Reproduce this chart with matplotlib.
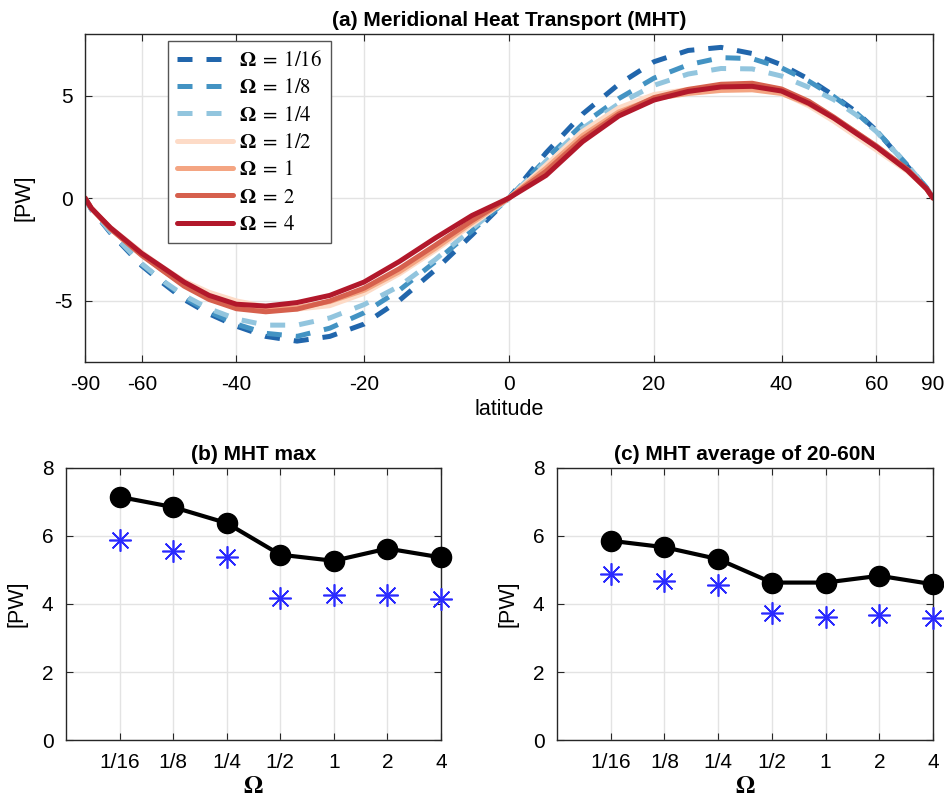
import numpy as np
import matplotlib
matplotlib.use('Agg')
import matplotlib.pyplot as plt

plt.rcParams['font.family'] = ['Liberation Sans', 'DejaVu Sans']
plt.rcParams['mathtext.fontset'] = 'stix'

lats = [-90, -80, -70, -60, -55, -50, -45, -40, -35, -30, -25, -20, -15, -10, -5,
        0, 5, 10, 15, 20, 25, 30, 35, 40, 45, 50, 55, 60, 70, 80, 90]

# MHT [PW] for each rotation rate
mht_1_16 = [0, -0.55, -1.7, -3.3, -4.1, -4.95, -5.65, -6.25, -6.75, -6.98, -6.75, -6.15, -5.0, -3.5, -1.8,
            0, 2.2, 4.1, 5.55, 6.65, 7.2, 7.35, 7.05, 6.5, 5.8, 5.0, 4.2, 3.3, 1.55, 0.5, 0]
mht_1_8 = [0, -0.55, -1.65, -3.25, -4.0, -4.85, -5.55, -6.15, -6.6, -6.75, -6.35, -5.6, -4.5, -3.1, -1.6,
           0, 1.9, 3.6, 4.85, 5.85, 6.5, 6.85, 6.8, 6.35, 5.7, 4.95, 4.15, 3.3, 1.6, 0.5, 0]
mht_1_4 = [0, -0.55, -1.65, -3.2, -4.0, -4.75, -5.4, -5.9, -6.2, -6.2, -5.85, -5.2, -4.3, -3.0, -1.5,
           0, 1.8, 3.4, 4.6, 5.5, 6.05, 6.32, 6.3, 5.95, 5.4, 4.8, 4.05, 3.25, 1.6, 0.5, 0]
mht_1_2 = [0, -0.5, -1.45, -2.65, -3.35, -4.05, -4.6, -5.02, -5.3, -5.42, -5.25, -4.65, -3.7, -2.55, -1.3,
           0, 1.6, 3.25, 4.4, 5.05, 5.3, 5.42, 5.38, 5.12, 4.5, 3.75, 3.0, 2.35, 1.3, 0.45, 0]
mht_1 = [0, -0.5, -1.5, -2.75, -3.5, -4.25, -4.85, -5.25, -5.4, -5.35, -5.05, -4.5, -3.6, -2.45, -1.2,
         0, 1.45, 3.05, 4.2, 4.85, 5.1, 5.25, 5.28, 5.1, 4.58, 3.9, 3.2, 2.5, 1.35, 0.45, 0]
mht_2 = [0, -0.5, -1.5, -2.8, -3.5, -4.3, -4.95, -5.4, -5.55, -5.42, -5.02, -4.4, -3.45, -2.3, -1.1,
         0, 1.3, 2.9, 4.1, 4.9, 5.3, 5.55, 5.6, 5.32, 4.72, 3.95, 3.2, 2.55, 1.4, 0.45, 0]
mht_4 = [0, -0.5, -1.45, -2.7, -3.35, -4.1, -4.75, -5.18, -5.27, -5.1, -4.75, -4.1, -3.1, -1.95, -0.85,
         0, 1.1, 2.75, 4.0, 4.78, 5.2, 5.42, 5.45, 5.22, 4.62, 3.9, 3.15, 2.5, 1.35, 0.45, 0]

series = [mht_1_16, mht_1_8, mht_1_4, mht_1_2, mht_1, mht_2, mht_4]
omega_labels = ['1/16', '1/8', '1/4', '1/2', '1', '2', '4']
colors = ['#2166ac', '#4393c3', '#92c5de', '#fddbc7', '#f4a582', '#d6604d', '#b2182b']
dashed = [True, True, True, False, False, False, False]

# panel (b): max MHT ; panel (c): MHT average 20-60N
mht_max = [7.15, 6.85, 6.38, 5.45, 5.27, 5.63, 5.37]
mht_max_star = [5.87, 5.55, 5.37, 4.19, 4.25, 4.25, 4.15]
mht_avg = [5.86, 5.67, 5.32, 4.63, 4.63, 4.83, 4.58]
mht_avg_star = [4.87, 4.67, 4.57, 3.73, 3.62, 3.68, 3.59]

lat_ticks = [-90, -60, -40, -20, 0, 20, 40, 60, 90]

spine_col = '#262626'
grid_col = '#e3e3e3'
omega = r'\mathbf{\Omega}'


def style_axes(ax):
    ax.grid(True, color=grid_col, lw=1.0)
    ax.set_axisbelow(True)
    for s in ax.spines.values():
        s.set_color(spine_col)
        s.set_linewidth(1.0)
    ax.tick_params(direction='in', top=True, right=True, length=5,
                   color=spine_col, labelsize=15, pad=9)


fig = plt.figure(figsize=(9.45, 8.07), dpi=100)

# (a) curves against latitude on a sine axis
ax = fig.add_axes([0.0899, 0.5514, 0.8974, 0.4064])
ax.set_xscale('function', functions=(lambda x: np.sin(np.deg2rad(x)),
                                     lambda y: np.rad2deg(np.arcsin(np.clip(y, -1, 1)))))
for vals, lab, c, d in zip(series, omega_labels, colors, dashed):
    if d:
        ax.plot(lats, vals, color=c, lw=3.6, dashes=(3.0, 2.8),
                label=r'$%s\;=\;%s$' % (omega, lab))
    else:
        ax.plot(lats, vals, color=c, lw=3.6, solid_capstyle='round', solid_joinstyle='round',
                label=r'$%s\;=\;%s$' % (omega, lab))
ax.set_xlim(-90, 90)
ax.set_ylim(-8, 8)
ax.set_xticks(lat_ticks)
ax.set_xticklabels([str(t) for t in lat_ticks])
ax.set_yticks([-5, 0, 5])
ax.set_yticklabels(['-5', '0', '5'])
style_axes(ax)
ax.set_xlabel('latitude', fontsize=15.5, labelpad=4)
ax.set_ylabel('[PW]', fontsize=15.5, labelpad=14)
ax.set_title('(a) Meridional Heat Transport (MHT)', fontsize=15, fontweight='bold', pad=6)
leg = ax.legend(loc='upper left', bbox_to_anchor=(0.098, 0.98), borderaxespad=0,
                fontsize=15, handlelength=2.65, handletextpad=0.3, labelspacing=0.4,
                borderpad=0.45, fancybox=False, framealpha=1.0)
leg.get_frame().set_edgecolor('#555555')
leg.get_frame().set_linewidth(1.0)

# (b) and (c)
xpos = np.arange(1, len(omega_labels) + 1)
panels = [([0.0698, 0.0830, 0.3968, 0.3371], mht_max, mht_max_star, '(b) MHT max'),
          ([0.5894, 0.0830, 0.3979, 0.3371], mht_avg, mht_avg_star, '(c) MHT average of 20-60N')]
for rect, dots, stars, title in panels:
    bx = fig.add_axes(rect)
    bx.plot(xpos, dots, color='black', lw=3, marker='o', ms=14.5, clip_on=False, zorder=3)
    bx.plot(xpos, stars, ls='none', marker=(8, 2, 0), ms=16, mec='#2b2bff', mew=1.2,
            clip_on=False, zorder=3)
    bx.set_xlim(0, 7)
    bx.set_ylim(0, 8)
    bx.set_xticks(xpos)
    bx.set_xticklabels(omega_labels)
    bx.set_yticks([0, 2, 4, 6, 8])
    style_axes(bx)
    bx.set_xlabel(r'$%s$' % omega, fontsize=18, labelpad=2)
    bx.set_ylabel('[PW]', fontsize=15.5, labelpad=10)
    bx.set_title(title, fontsize=15, fontweight='bold', pad=6)

fig.savefig('out.png', dpi=100)
